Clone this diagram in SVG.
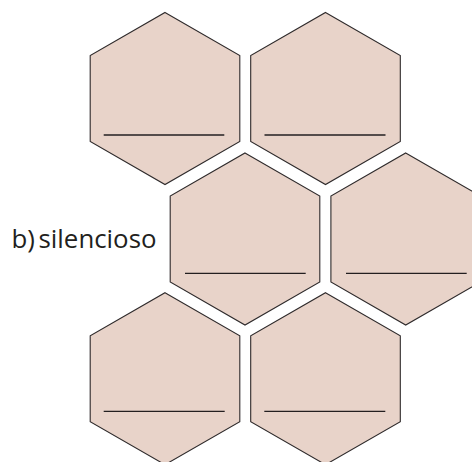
<svg xmlns="http://www.w3.org/2000/svg" width="472" height="462" viewBox="0 0 472 462">
<defs>
<style>
.hex{fill:#e8d3c9;stroke:#2e2a2b;stroke-width:1.1}
.ln{stroke:#231f20;stroke-width:1.3}
.lbl{font-family:"Open Sans","Noto Sans",sans-serif;font-size:25px;fill:#231f20;word-spacing:-3px}
</style>
<polygon id="h" class="hex" points="0,-86 74.8,-43 74.8,43 0,86 -74.8,43 -74.8,-43"/>
</defs>
<rect width="472" height="462" fill="#fff"/>
<g id="hex1" transform="translate(165,98.5)"><use href="#h"/><line class="ln" x1="-61.3" y1="36.5" x2="59.3" y2="36.5"/></g>
<g id="hex2" transform="translate(325.5,98.5)"><use href="#h"/><line class="ln" x1="-61" y1="36.5" x2="60" y2="36.5"/></g>
<g id="hex3" transform="translate(245,239)"><use href="#h"/><line class="ln" x1="-60" y1="34.3" x2="60.7" y2="34.3"/></g>
<g id="hex4" transform="translate(405.7,239)"><use href="#h"/><line class="ln" x1="-59.7" y1="34.3" x2="61" y2="34.3"/></g>
<g id="hex5" transform="translate(165,378.7)"><use href="#h"/><line class="ln" x1="-61.3" y1="32.6" x2="59.7" y2="32.6"/></g>
<g id="hex6" transform="translate(325.5,378.7)"><use href="#h"/><line class="ln" x1="-61.2" y1="32.6" x2="59.8" y2="32.6"/></g>
<g id="label"><text class="lbl" x="11.5" y="248" textLength="145" lengthAdjust="spacingAndGlyphs">b) silencioso</text></g>
<g id="connectors"/>
</svg>
